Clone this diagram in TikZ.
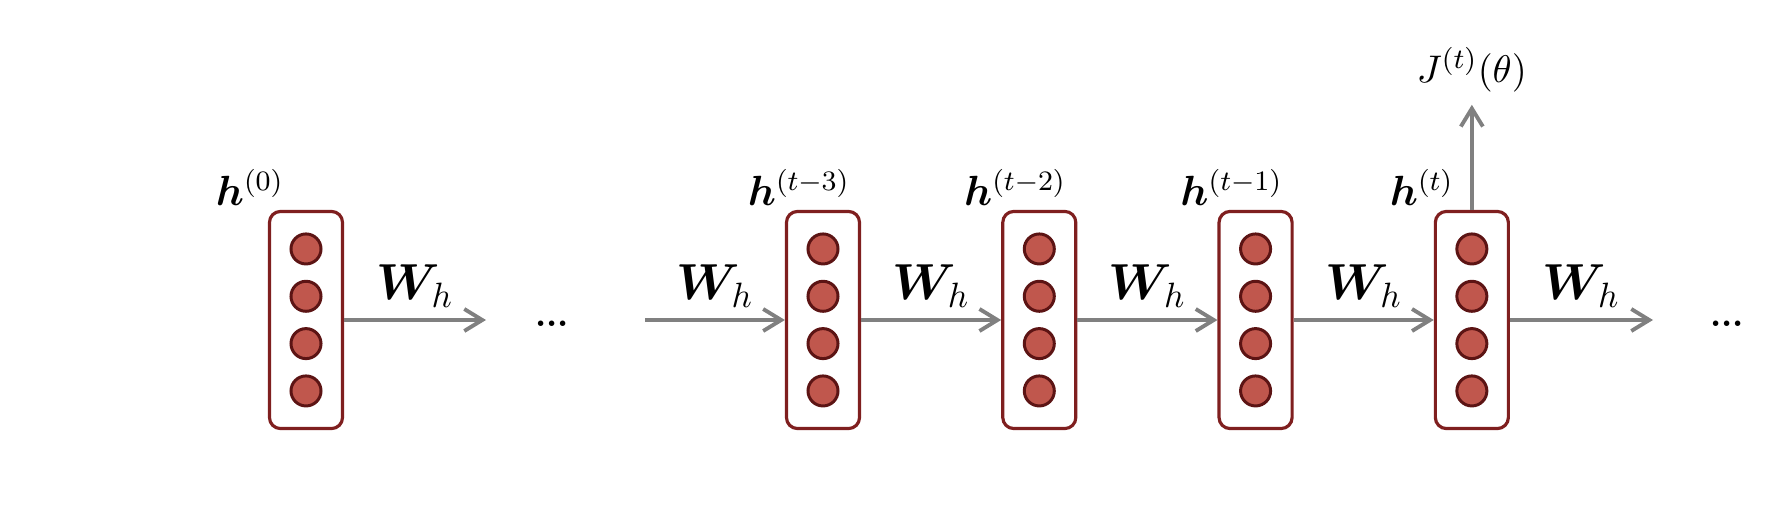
\documentclass[tikz,border=0pt]{standalone}
\usepackage{amsmath,amssymb}
\usepackage{bm}
\usepackage{xcolor}
\usetikzlibrary{arrows.meta, positioning, calc}
\definecolor{cellred}{HTML}{7F1F1F}
\definecolor{unitfill}{HTML}{C0574D}
\definecolor{unitdraw}{HTML}{5C1414}
\definecolor{linkgray}{HTML}{808080}

\begin{document}
\begin{tikzpicture}[
  x=0.01cm, y=-0.01cm,
  node distance=1.4cm,
  cell/.style={draw=cellred, line width=0.9pt, rounded corners=0.11cm, minimum width=0.73cm, minimum height=2.17cm, inner sep=0pt},
  unit/.style={circle, draw=unitdraw, fill=unitfill, line width=0.85pt, minimum size=0.30cm, inner sep=0pt},
  link/.style={draw=linkgray, line width=1.1pt, -{Straight Barb[length=1.8mm, width=2.2mm]}},
  hlab/.style={anchor=base, font=\fontsize{11.5pt}{14pt}\selectfont},
  wlab/.style={midway, anchor=base, yshift=0.2cm, font=\Large}
]
\useasboundingbox (0,0) rectangle (1790,518);

% hidden states
\node[cell] (h0) at (306,320) {};
\node[cell] (h3) at (823,320) {};
\node[cell, right=of h3] (h2) {};
\node[cell, right=of h2] (h1) {};
\node[cell, right=of h1] (ht) {};

\foreach \b in {h0,h3,h2,h1,ht}
  \foreach \k in {0,...,3}
    \node[unit] (\b-\k) at ([yshift={0.71cm-\k*0.473cm}]\b.center) {};

\node[hlab] (l0) at ([xshift=-0.56cm, yshift=0.04cm]h0.north) {$\bm{h}^{(0)}$};
\node[hlab] (l3) at ([xshift=-0.24cm, yshift=0.04cm]h3.north) {$\bm{h}^{(t-3)}$};
\node[hlab] (l2) at ([xshift=-0.24cm, yshift=0.04cm]h2.north) {$\bm{h}^{(t-2)}$};
\node[hlab] (l1) at ([xshift=-0.24cm, yshift=0.04cm]h1.north) {$\bm{h}^{(t-1)}$};
\node[hlab] (lt) at ([xshift=-0.50cm, yshift=0.04cm]ht.north) {$\bm{h}^{(t)}$};

% loss and ellipses
\node[above=1.05cm of ht, font=\fontsize{11pt}{13pt}\selectfont] (loss) {$J^{(t)}(\theta)$};
\node (d0) at (552,324) {\textbf{...}};
\node (dt) at (1727,324) {\textbf{...}};

\coordinate (e0) at (486,320);
\coordinate (s3) at (645,320);
\coordinate (et) at (1653,320);

% recurrent links
\draw[link] (h0) -- node[wlab] {$\bm{W}_h$} (e0);
\draw[link] (s3) -- node[wlab] {$\bm{W}_h$} (h3);
\draw[link] (h3) -- node[wlab] {$\bm{W}_h$} (h2);
\draw[link] (h2) -- node[wlab] {$\bm{W}_h$} (h1);
\draw[link] (h1) -- node[wlab] {$\bm{W}_h$} (ht);
\draw[link] (ht) -- node[wlab] {$\bm{W}_h$} (et);
\draw[link] (ht) -- (loss);
\end{tikzpicture}
\end{document}
